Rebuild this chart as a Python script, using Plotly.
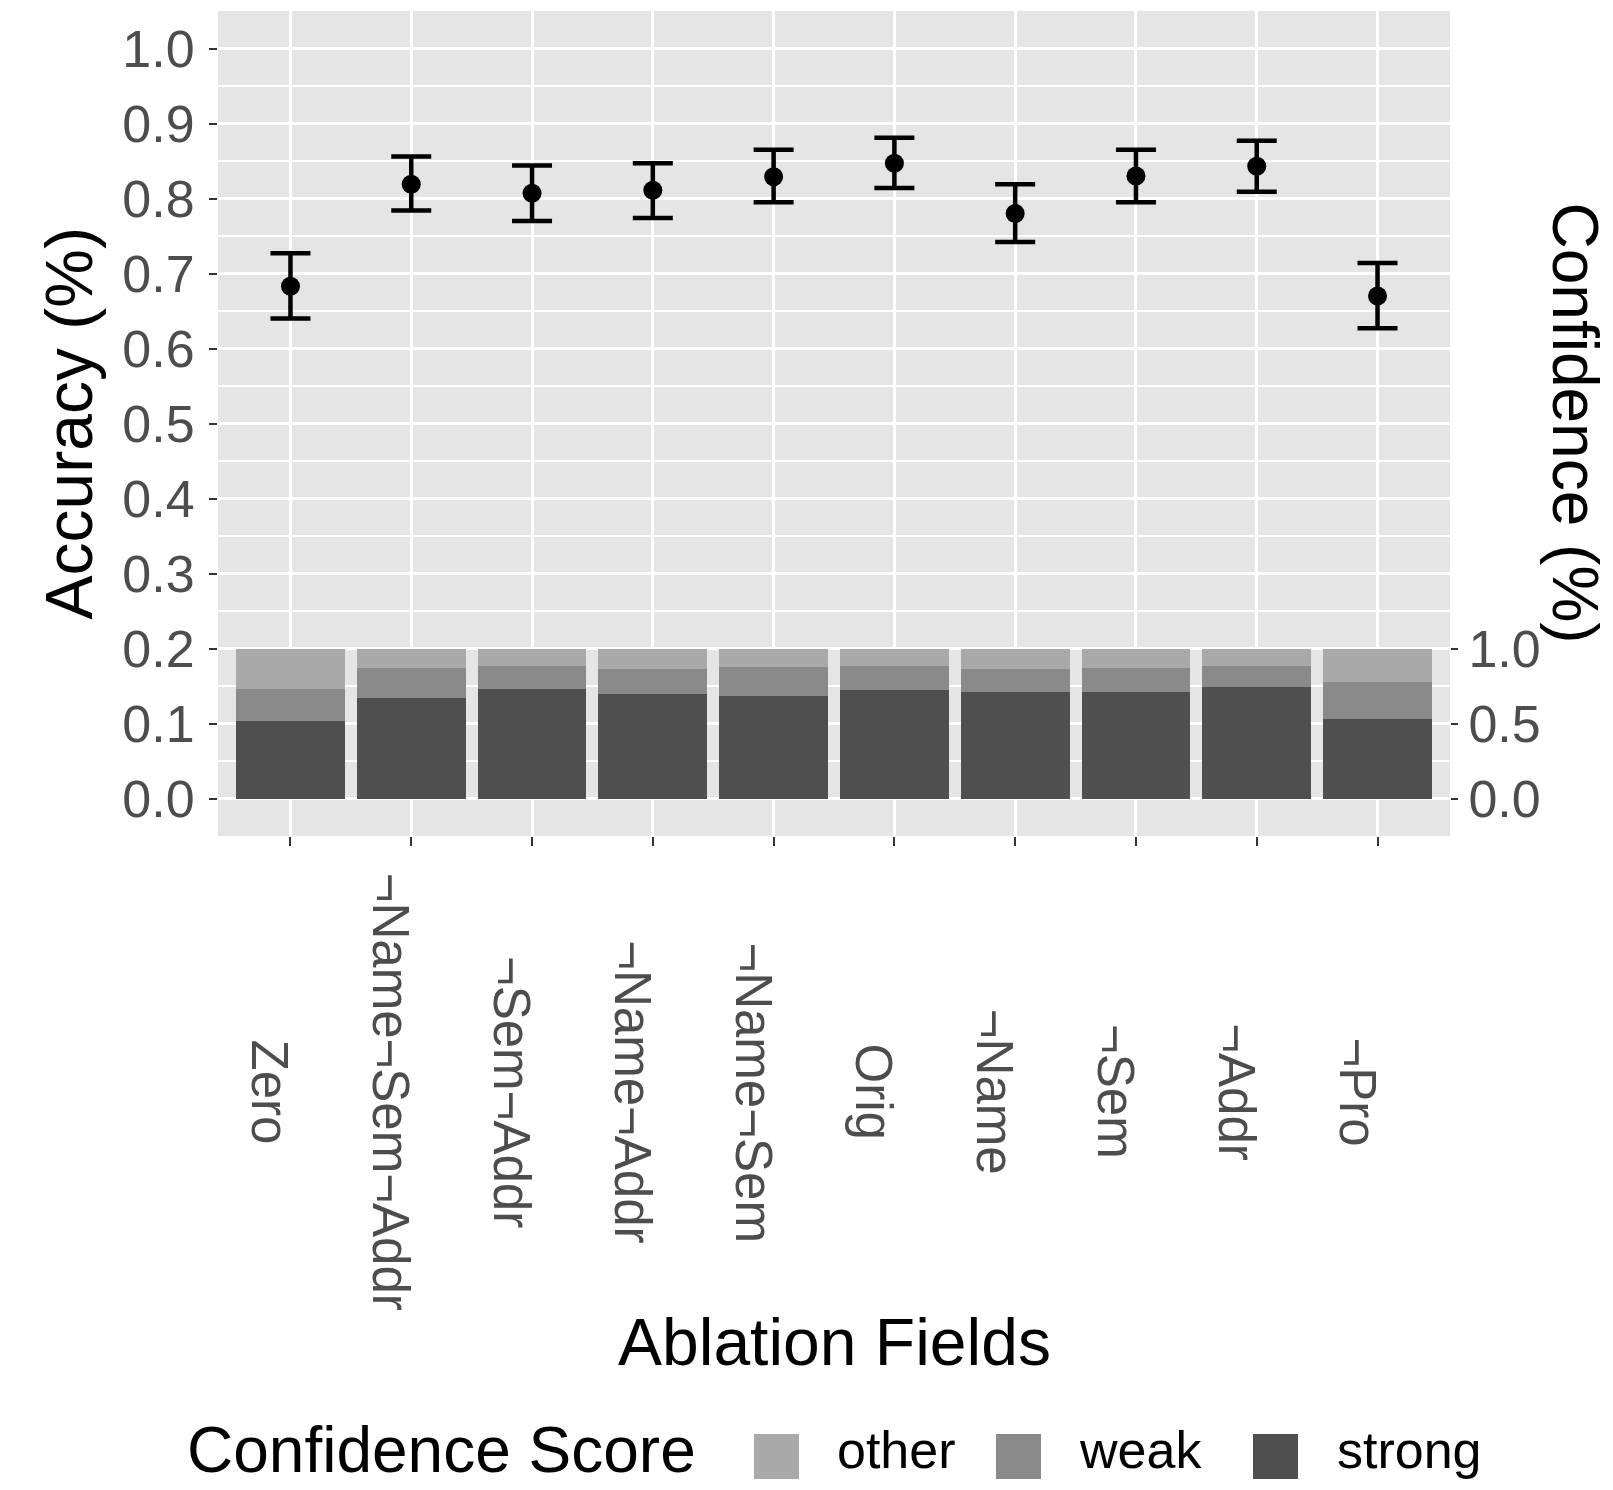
import plotly.graph_objects as go

# ---------------- data ----------------
categories = ["Zero", "¬Name¬Sem¬Addr", "¬Sem¬Addr", "¬Name¬Addr", "¬Name¬Sem",
              "Orig", "¬Name", "¬Sem", "¬Addr", "¬Pro"]
accuracy = [0.683, 0.819, 0.807, 0.811, 0.829, 0.847, 0.780, 0.830, 0.843, 0.670]
acc_upper = [0.727, 0.856, 0.844, 0.847, 0.865, 0.881, 0.819, 0.865, 0.877, 0.714]
acc_lower = [0.640, 0.784, 0.770, 0.774, 0.795, 0.814, 0.742, 0.795, 0.809, 0.627]

conf_strong = [0.517, 0.670, 0.730, 0.699, 0.682, 0.722, 0.713, 0.710, 0.744, 0.528]
conf_weak = [0.216, 0.199, 0.154, 0.167, 0.193, 0.162, 0.153, 0.161, 0.140, 0.249]
conf_other = [0.267, 0.131, 0.116, 0.134, 0.125, 0.116, 0.134, 0.129, 0.116, 0.223]

left_ticks = [0.0, 0.1, 0.2, 0.3, 0.4, 0.5, 0.6, 0.7, 0.8, 0.9, 1.0]
right_ticks = [0.0, 0.5, 1.0]
legend_labels = ["other", "weak", "strong"]

# ---------------- style ----------------
W, H = 1613, 1490
ML, MR, MT, MB = 218, 163, 11, 654
PW, PH = W - ML - MR, H - MT - MB
FONT = "Liberation Sans, Arial, sans-serif"
TICK_COL = "#4d4d4d"
C_STRONG, C_WEAK, C_OTHER = "#4f4f4f", "#8a8a8a", "#a9a9a9"
colors = {"other": C_OTHER, "weak": C_WEAK, "strong": C_STRONG}


def px2paper_x(px):
    return (px - ML) / PW


def px2paper_y(py):
    return (MT + PH - py) / PH


fig = go.Figure()

for name, vals, col in [("strong", conf_strong, C_STRONG),
                        ("weak", conf_weak, C_WEAK),
                        ("other", conf_other, C_OTHER)]:
    fig.add_trace(go.Bar(x=categories, y=vals, name=name, yaxis="y2",
                         marker=dict(color=col, line=dict(width=0)),
                         width=0.9, showlegend=False))

fig.add_trace(go.Scatter(
    x=categories, y=accuracy, mode="markers", yaxis="y",
    marker=dict(color="black", size=19),
    error_y=dict(type="data", symmetric=False,
                 array=[u - a for u, a in zip(acc_upper, accuracy)],
                 arrayminus=[a - l for a, l in zip(accuracy, acc_lower)],
                 color="black", thickness=4.5, width=20),
    showlegend=False))

annotations = []
# x tick labels (rotated, centred like ggplot)
for c in categories:
    annotations.append(dict(x=c, xref="x", y=px2paper_y(1092), yref="paper",
                            text=c, textangle=90, showarrow=False,
                            xanchor="center", yanchor="middle", xshift=-20,
                            font=dict(family=FONT, size=51, color=TICK_COL)))
# axis titles
annotations.append(dict(x=px2paper_x(68), y=0.5, xref="paper", yref="paper",
                        text="Accuracy (%)", textangle=-90, showarrow=False,
                        xanchor="center", yanchor="middle",
                        font=dict(family=FONT, size=66, color="black")))
annotations.append(dict(x=px2paper_x(1575), y=0.5, xref="paper", yref="paper",
                        text="Confidence (%)", textangle=90, showarrow=False,
                        xanchor="center", yanchor="middle",
                        font=dict(family=FONT, size=64, color="black")))
annotations.append(dict(x=0.5, y=px2paper_y(1342), xref="paper", yref="paper",
                        text="Ablation Fields", showarrow=False,
                        xanchor="center", yanchor="middle",
                        font=dict(family=FONT, size=66, color="black")))
# legend
LEG_Y = 1450
annotations.append(dict(x=px2paper_x(185), y=px2paper_y(LEG_Y), xref="paper", yref="paper",
                        text="Confidence Score", showarrow=False,
                        xanchor="left", yanchor="middle",
                        font=dict(family=FONT, size=64, color="black")))
shapes = []
key_left = [754, 996, 1253]
label_left = [835, 1077, 1335]
for lab, kx, tx in zip(legend_labels, key_left, label_left):
    shapes.append(dict(type="rect", xref="paper", yref="paper",
                       x0=px2paper_x(kx), x1=px2paper_x(kx + 45),
                       y0=px2paper_y(1434), y1=px2paper_y(1479),
                       fillcolor=colors[lab], line=dict(width=0)))
    annotations.append(dict(x=px2paper_x(tx), y=px2paper_y(LEG_Y), xref="paper", yref="paper",
                            text=lab, showarrow=False, xanchor="left", yanchor="middle",
                            font=dict(family=FONT, size=52, color="black")))

fig.update_layout(
    width=W, height=H,
    margin=dict(l=ML, r=MR, t=MT, b=MB, pad=0),
    paper_bgcolor="white", plot_bgcolor="#e5e5e5",
    barmode="stack", bargap=0.1,
    font=dict(family=FONT, color=TICK_COL),
    xaxis=dict(type="category", range=[-0.6, 9.6], showgrid=True,
               gridcolor="white", gridwidth=3, ticks="outside", ticklen=9,
               tickwidth=2, tickcolor="#333333", showticklabels=False,
               zeroline=False, showline=False),
    yaxis=dict(range=[-0.05, 1.05], tickvals=left_ticks, tickformat=".1f",
               showgrid=True, gridcolor="white", gridwidth=3,
               minor=dict(dtick=0.05, tick0=0, showgrid=True, gridcolor="white",
                          gridwidth=1.5, ticks=""),
               ticks="outside", ticklen=8, tickwidth=2, tickcolor="#333333",
               tickfont=dict(family=FONT, size=52, color=TICK_COL),
               ticklabelstandoff=4, zeroline=False, showline=False),
    yaxis2=dict(range=[-0.25, 5.25], overlaying="y", side="right",
                tickvals=right_ticks, tickformat=".1f", showgrid=False,
                ticks="outside", ticklen=7, tickwidth=2, tickcolor="#333333",
                tickfont=dict(family=FONT, size=52, color=TICK_COL),
                zeroline=False, showline=False),
    annotations=annotations, shapes=shapes,
)

fig.write_html("out.html", config={"displayModeBar": False},
               post_script="document.body.style.margin='0px';")
